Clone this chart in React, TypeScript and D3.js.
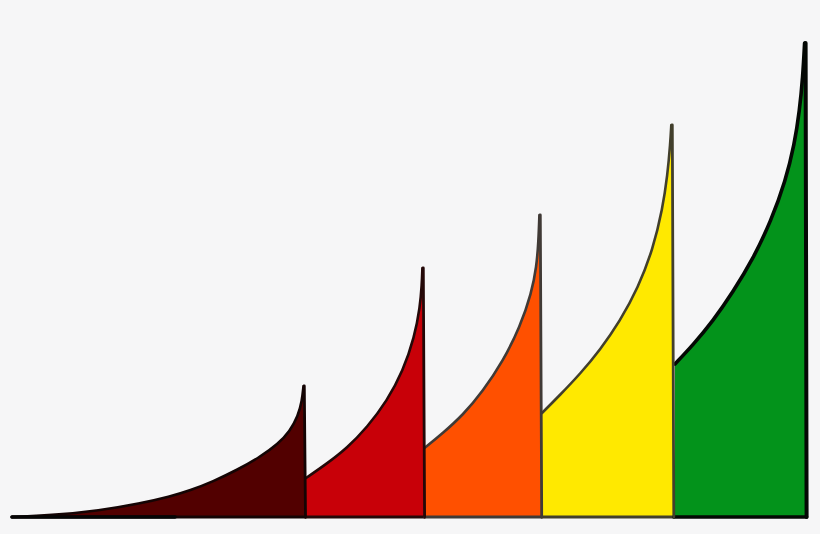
import * as d3 from 'd3'

// values, x along the axis, v height above the baseline
const darkX = [12, 50, 100, 140, 170, 190, 213, 237, 260, 278, 290, 298, 302, 303.5]
const darkV = [0, 1.5, 6.5, 13.5, 20.5, 26.5, 35.5, 47, 60, 73, 86, 101, 116, 131]
const redX = [306, 327, 347, 367, 387, 403, 414.5, 420, 421.8, 422.4]
const redV = [39, 53.5, 69, 89.5, 116, 146, 180, 210, 232, 249]
const orangeX = [424.5, 443, 463, 483, 503, 520, 531.5, 536.5, 538.5, 539.4]
const orangeV = [69, 84, 102, 126, 156, 190, 224, 250, 276, 302]
const yellowX = [542, 560, 580, 600, 620, 638, 653, 662.5, 667.5, 670.3, 671.3]
const yellowV = [104, 122, 143, 167, 196, 229, 268, 308, 342, 374, 392]
const greenX = [675, 693, 713, 733, 753, 771, 785.5, 794.5, 799.5, 802.8, 804.6]
const greenV = [153, 172, 196, 225, 258, 296, 336, 373, 406, 440, 474]
const topX = [304.3, 423.3, 540.3, 672.3, 805.6]
const footX = [305.5, 424.6, 541.7, 673.8, 806.6]

const fills = ['#520000', '#c80008', '#ff5000', '#ffe900', '#03931b']
const strokes = ['#140404', '#240808', '#403a36', '#423f2c', '#040804']
const strokeWidths = [2.6, 2.6, 2.6, 2.6, 3.6]
const xs = [darkX, redX, orangeX, yellowX, greenX]
const vs = [darkV, redV, orangeV, yellowV, greenV]

const width = 820
const height = 534
const baseY = 517

export default function App() {
  const xScale = d3.scaleLinear().domain([0, width]).range([0, width])
  const yScale = d3.scaleLinear().domain([0, baseY]).range([baseY, 0])

  const line = d3.line<[number, number]>()
    .x(d => xScale(d[0]))
    .y(d => yScale(d[1]))
    .curve(d3.curveBasis)

  return (
    <svg
      width={width}
      height={height}
      style={{ position: 'fixed', left: 0, top: 0, background: '#f6f6f7' }}
    >
      {xs.map((x, i) => {
        const pts = x.map((px, j) => [px, vs[i][j]] as [number, number])
        const curve = line(pts) ?? ''
        return (
          <g key={i}>
            <path
              d={`${curve}L${xScale(footX[i])},${yScale(0)}L${xScale(x[0])},${yScale(0)}Z`}
              fill={fills[i]}
            />
            <path d={curve} fill="none" stroke={strokes[i]} strokeWidth={strokeWidths[i]} strokeLinecap="round" />
          </g>
        )
      })}
      {/* baseline pieces, the colour changes along the axis */}
      {xs.map((x, i) => (
        <line
          key={i}
          x1={xScale(i === 0 ? x[0] : footX[i - 1])}
          x2={xScale(footX[i])}
          y1={yScale(0)}
          y2={yScale(0)}
          stroke={strokes[i]}
          strokeWidth={i === 4 ? 3.6 : 3}
          strokeLinecap="round"
        />
      ))}
      <line
        x1={xScale(darkX[0])}
        x2={xScale(175)}
        y1={yScale(0)}
        y2={yScale(0)}
        stroke="#050505"
        strokeWidth={3.6}
        strokeLinecap="round"
      />
      {xs.map((_, i) => (
        <line
          key={i}
          x1={xScale(topX[i])}
          x2={xScale(footX[i])}
          y1={yScale(vs[i][vs[i].length - 1])}
          y2={yScale(0)}
          stroke={strokes[i]}
          strokeWidth={i === 4 ? 4 : 2.8}
          strokeLinecap="round"
        />
      ))}
    </svg>
  )
}
